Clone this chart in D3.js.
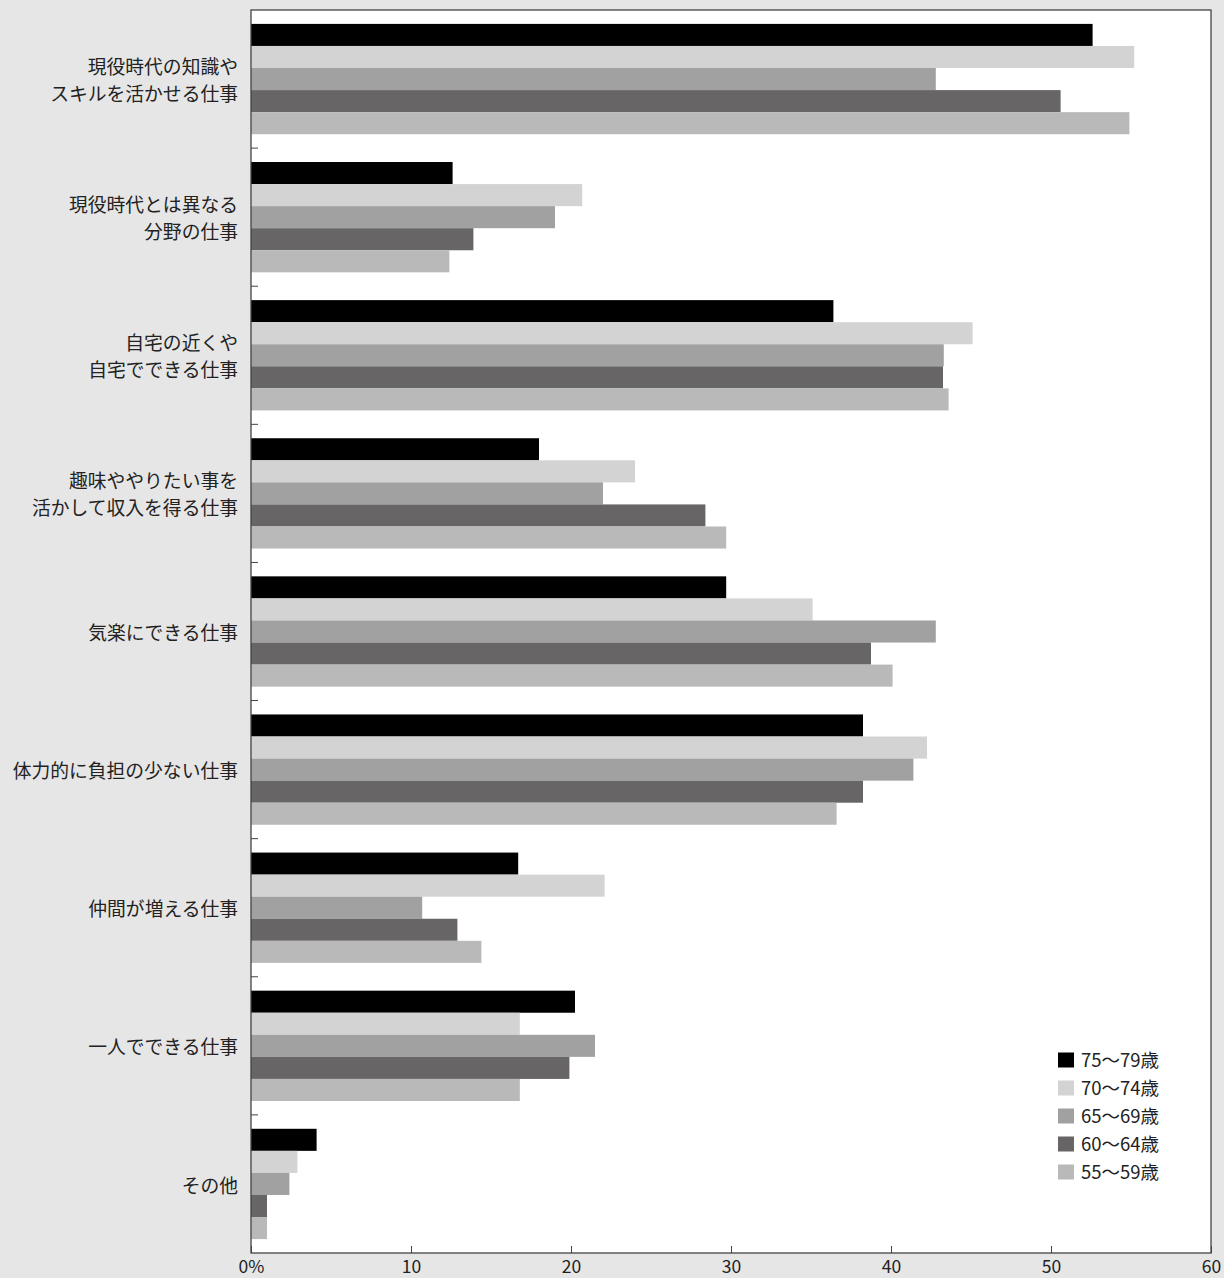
<!DOCTYPE html>
<html><head><meta charset="utf-8">
<script src="https://cdn.jsdelivr.net/npm/d3@7"></script>
<style>
html,body{margin:0;padding:0;background:#e6e6e6;}
svg{display:block;font-family:"Noto Sans CJK JP","Noto Sans",sans-serif;}
</style></head>
<body>
<svg id="chart" width="1224" height="1278"></svg>
<script>
const categories = [
  ["現役時代の知識や","スキルを活かせる仕事"],
  ["現役時代とは異なる","分野の仕事"],
  ["自宅の近くや","自宅でできる仕事"],
  ["趣味ややりたい事を","活かして収入を得る仕事"],
  ["気楽にできる仕事"],
  ["体力的に負担の少ない仕事"],
  ["仲間が増える仕事"],
  ["一人でできる仕事"],
  ["その他"]
];
const seriesNames = ["75〜79歳","70〜74歳","65〜69歳","60〜64歳","55〜59歳"];
const seriesColors = ["#000000","#d3d3d3","#a0a1a0","#686566","#b8b9b8"];
const s75_79 = [52.6, 12.6, 36.4, 18.0, 29.7, 38.25, 16.7, 20.25, 4.1];
const s70_74 = [55.2, 20.7, 45.1, 24.0, 35.1, 42.25, 22.1, 16.8, 2.9];
const s65_69 = [42.8, 19.0, 43.3, 22.0, 42.8, 41.4, 10.7, 21.5, 2.4];
const s60_64 = [50.6, 13.9, 43.25, 28.4, 38.75, 38.25, 12.9, 19.9, 1.0];
const s55_59 = [54.9, 12.4, 43.6, 29.7, 40.1, 36.6, 14.4, 16.8, 1.0];
const seriesValues = [s75_79, s70_74, s65_69, s60_64, s55_59];
const xTicks = [0,10,20,30,40,50,60];
const xTickLabels = ["0%","10","20","30","40","50","60"];

const svg = d3.select("#chart");
const pLeft = 251, pRight = 1211, pTop = 10, pBottom = 1253;

svg.append("rect").attr("x",pLeft).attr("y",pTop).attr("width",pRight-pLeft).attr("height",pBottom-pTop).attr("fill","#fff");

const x = d3.scaleLinear().domain([0,60]).range([pLeft,pRight]);
const y = d3.scaleBand().domain(d3.range(categories.length)).range([pTop,pBottom]).padding(0);
const yi = d3.scaleBand().domain(d3.range(seriesNames.length)).range([0,y.bandwidth()]).paddingInner(0).paddingOuter(0.63);

const g = svg.append("g");
categories.forEach((c,ci)=>{
  seriesValues.forEach((vals,si)=>{
    g.append("rect")
      .attr("x",x(0))
      .attr("y",y(ci)+yi(si))
      .attr("width",x(vals[ci])-x(0))
      .attr("height",yi.bandwidth())
      .attr("fill",seriesColors[si]);
  });
});

// frame
svg.append("rect").attr("x",pLeft).attr("y",pTop).attr("width",pRight-pLeft).attr("height",pBottom-pTop)
  .attr("fill","none").attr("stroke","#444").attr("stroke-width",1.3);

// y boundary ticks
const yTickPos = d3.range(1,categories.length).map(i=>y(i));
svg.selectAll(".ytick").data(yTickPos).join("line")
  .attr("x1",pLeft).attr("x2",pLeft+7).attr("y1",d=>d).attr("y2",d=>d)
  .attr("stroke","#444").attr("stroke-width",1);

// x axis
const xAxis = d3.axisBottom(x).tickValues(xTicks).tickFormat((d,i)=>xTickLabels[i]).tickSizeInner(-7).tickSizeOuter(0);
const xa = svg.append("g").attr("transform",`translate(0,${pBottom})`).call(xAxis);
xa.select(".domain").remove();
xa.selectAll(".tick line").attr("stroke","#444");
xa.selectAll(".tick text").attr("font-size",17.5).attr("fill","#222")
  .attr("font-family","\"Noto Sans CJK JP\",sans-serif").attr("y",20).attr("dy",0);

// category labels
categories.forEach((lines,ci)=>{
  const cy = y(ci)+y.bandwidth()/2 + 2;
  const lh = 27;
  lines.forEach((t,li)=>{
    svg.append("text")
      .attr("x",238)
      .attr("y",cy + (li-(lines.length-1)/2)*lh)
      .attr("dy","0.35em")
      .attr("text-anchor","end")
      .attr("font-size",18.8)
      .attr("fill","#222")
      .text(t);
  });
});

// legend
const lg = svg.append("g");
seriesNames.forEach((n,i)=>{
  const ly = 1060 + i*28;
  lg.append("rect").attr("x",1058).attr("y",ly-7.5).attr("width",16).attr("height",15).attr("fill",seriesColors[i]);
  lg.append("text").attr("x",1081).attr("y",ly+7).attr("font-size",18.5).attr("fill","#222").text(n);
});
</script>
</body></html>
